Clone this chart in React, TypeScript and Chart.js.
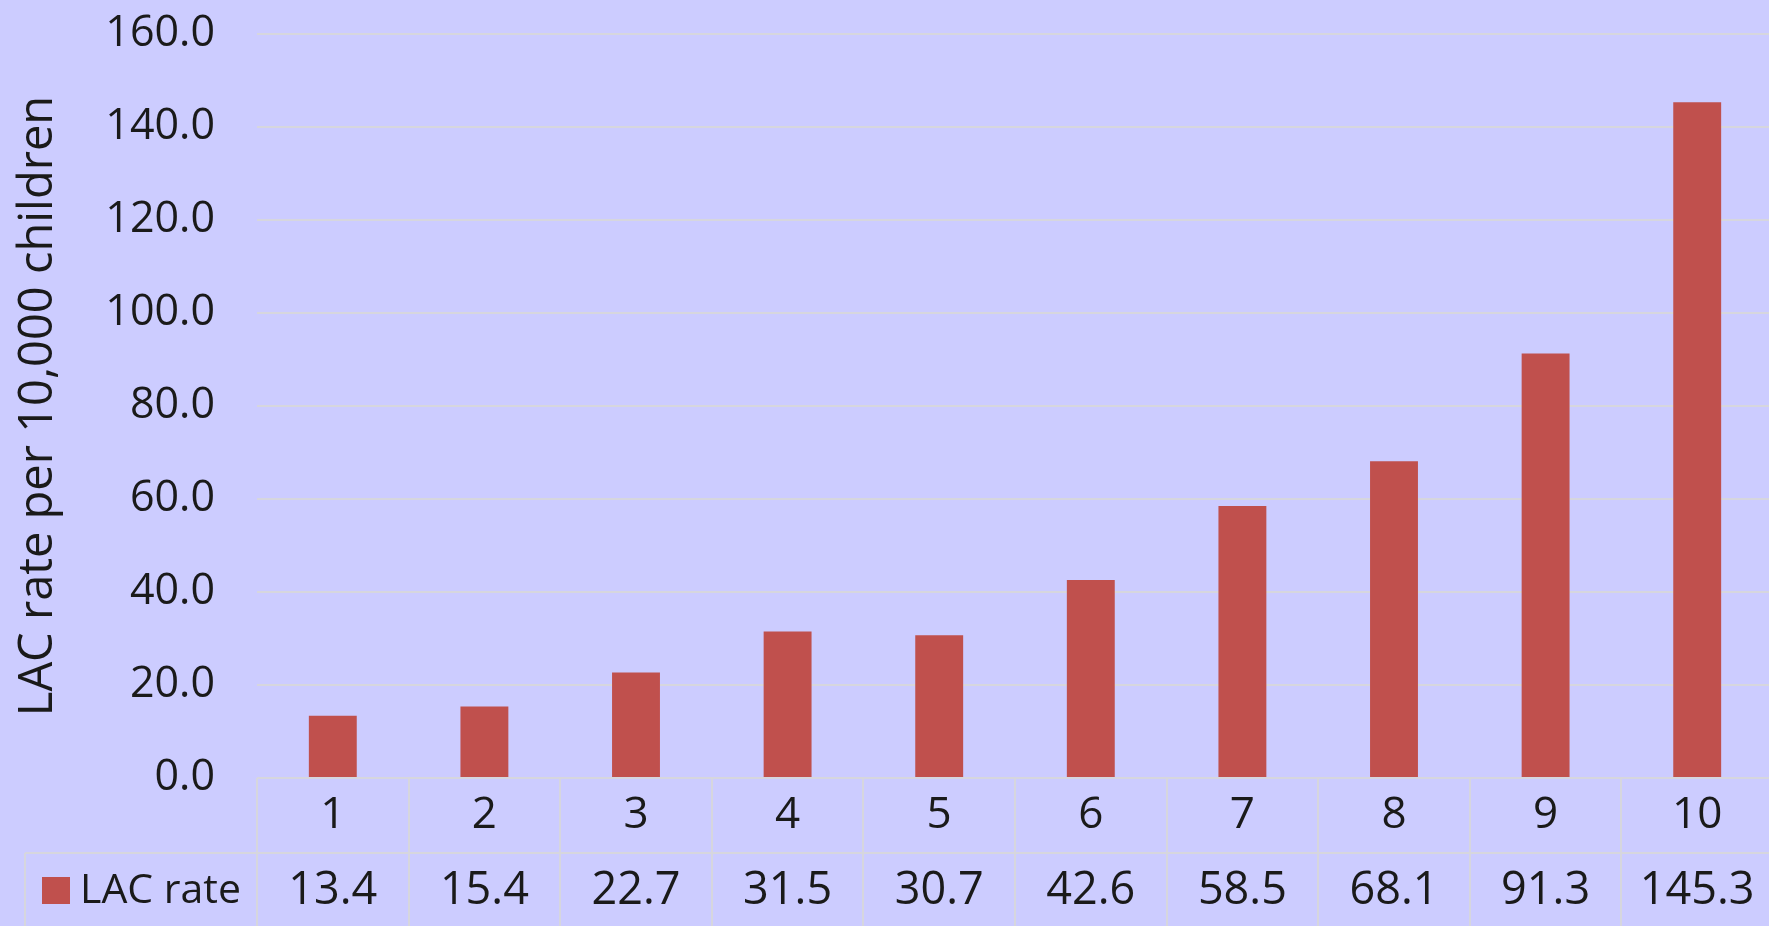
import React, { useEffect, useRef } from 'react';
import { Chart, registerables } from 'chart.js';

Chart.register(...registerables);

const categories = ['1', '2', '3', '4', '5', '6', '7', '8', '9', '10'];
const lacRate = [13.4, 15.4, 22.7, 31.5, 30.7, 42.6, 58.5, 68.1, 91.3, 145.3];
const seriesLabel = 'LAC rate';
const yTitle = 'LAC rate per 10,000 children';
const yMin = 0;
const yMax = 160;
const yStep = 20;

const BG = '#CCCCFF';
const BAR = '#C0504D';
const GRID = '#D6D6DE';
const TEXT = '#1A1A1A';
const FONT = '"Open Sans", sans-serif';
const FS = 43;
const CAT_FS = 44;
const VAL_FS = 45;
const LEG_FS = 41;

const tablePlugin = {
  id: 'dataTable',
  beforeDraw(chart: any) {
    const ctx = chart.ctx;
    ctx.save();
    ctx.fillStyle = BG;
    ctx.fillRect(0, 0, chart.width, chart.height);
    ctx.restore();
  },
  afterDraw(chart: any) {
    const ctx = chart.ctx;
    const xs = chart.scales.x;
    const area = chart.chartArea;
    const n = categories.length;
    const w = (xs.right - xs.left) / n;
    const y0 = area.bottom;
    const y1 = y0 + 75;
    const y2 = chart.height;
    const legendLeft = 25;
    ctx.save();
    ctx.strokeStyle = GRID;
    ctx.lineWidth = 2;
    ctx.beginPath();
    ctx.moveTo(xs.left, y0);
    ctx.lineTo(chart.width, y0);
    ctx.moveTo(legendLeft, y1);
    ctx.lineTo(chart.width, y1);
    for (let i = 0; i <= n; i++) {
      const xx = Math.round(xs.left + i * w);
      ctx.moveTo(xx, y0);
      ctx.lineTo(xx, y2);
    }
    ctx.moveTo(legendLeft, y1);
    ctx.lineTo(legendLeft, y2);
    ctx.stroke();

    ctx.fillStyle = TEXT;
    ctx.textAlign = 'center';
    ctx.textBaseline = 'middle';
    for (let i = 0; i < n; i++) {
      const cx = xs.getPixelForValue(i);
      ctx.font = `${CAT_FS}px ${FONT}`;
      ctx.fillText(categories[i], cx, y0 + 37);
      ctx.font = `${VAL_FS}px ${FONT}`;
      ctx.fillText(lacRate[i].toFixed(1), cx, y1 + 38);
    }
    // legend key
    ctx.fillStyle = BAR;
    ctx.fillRect(42, y1 + 24, 28, 27);
    ctx.fillStyle = TEXT;
    ctx.textAlign = 'left';
    ctx.font = `${LEG_FS}px ${FONT}`;
    ctx.fillText(seriesLabel, 80, y1 + 38);
    ctx.restore();
  },
};

export default function App() {
  const ref = useRef<HTMLCanvasElement | null>(null);
  useEffect(() => {
    document.body.style.margin = '0';
    const canvas = ref.current;
    if (!canvas) return;
    const chart = new Chart(canvas, {
      type: 'bar',
      data: {
        labels: categories,
        datasets: [
          {
            label: seriesLabel,
            data: lacRate,
            backgroundColor: BAR,
            borderWidth: 0,
            barPercentage: 0.316,
            categoryPercentage: 1,
          },
        ],
      },
      options: {
        responsive: false,
        animation: false,
        layout: { padding: { top: 34, right: 0, bottom: 140, left: 0 } },
        plugins: {
          legend: { display: false },
          tooltip: { enabled: false },
          title: { display: false },
        },
        scales: {
          x: {
            ticks: { display: false },
            grid: { display: false },
            border: { display: false },
            afterFit: (s: any) => {
              s.paddingLeft = 0;
              s.paddingRight = 0;
            },
          },
          y: {
            min: yMin,
            max: yMax,
            ticks: {
              stepSize: yStep,
              color: TEXT,
              font: { family: FONT, size: FS },
              padding: 42,
              callback: (v: any) => Number(v).toFixed(1),
            },
            grid: { color: GRID, lineWidth: 2, drawTicks: false },
            border: { display: false },
            title: {
              display: true,
              text: yTitle,
              color: TEXT,
              font: { family: FONT, size: 47 },
              padding: { top: 10, bottom: 0 },
            },
            afterFit: (s: any) => {
              s.width = 257;
              s.paddingTop = 0;
              s.paddingBottom = 0;
            },
          },
        },
      },
      plugins: [tablePlugin],
    });
    return () => chart.destroy();
  }, []);
  return (
    <div style={{ width: 1769, height: 926, overflow: 'hidden' }}>
      <canvas ref={ref} width={1773} height={926} style={{ display: 'block' }} />
    </div>
  );
}
